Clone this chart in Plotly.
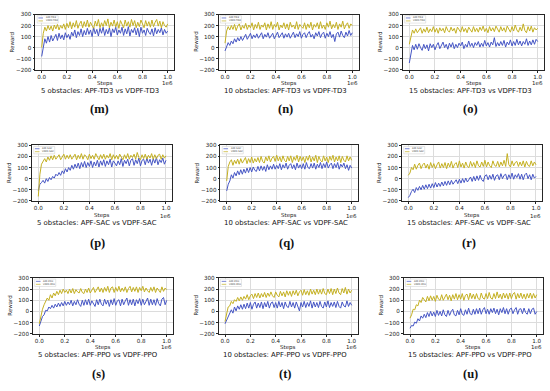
import plotly.graph_objects as go

W, H = 550, 391

steps = [i * 12500 for i in range(81)]

m_vdpf = [0, 130, 185, 150, 200, 160, 195, 150, 205, 170,
          210, 160, 200, 175, 215, 165, 220, 180, 235, 170,
          225, 185, 245, 175, 215, 240, 180, 235, 190, 250,
          185, 230, 200, 175, 240, 195, 255, 180, 225, 190,
          245, 200, 260, 180, 230, 195, 250, 185, 235, 175,
          245, 205, 180, 250, 195, 235, 185, 255, 200, 245,
          180, 230, 190, 250, 205, 180, 245, 195, 235, 185,
          250, 190, 230, 255, 195, 240, 180, 235, 200, 185, 215]
m_apf = [-80, 10, 80, 40, 100, 50, 110, 60, 95, 120,
         65, 130, 80, 115, 70, 135, 90, 120, 75, 140,
         105, 160, 90, 145, 110, 170, 100, 155, 115, 175,
         120, 160, 100, 180, 125, 165, 105, 175, 130, 185,
         110, 165, 125, 180, 100, 170, 135, 185, 115, 160,
         130, 185, 110, 170, 125, 190, 105, 165, 135, 180,
         115, 175, 100, 185, 130, 160, 110, 175, 140, 120,
         170, 105, 180, 125, 165, 135, 180, 115, 165, 130, 150]

n_vdpf = [40, 150, 190, 160, 200, 165, 210, 155, 195, 215,
          160, 200, 175, 220, 165, 205, 180, 225, 160, 210,
          175, 230, 165, 205, 185, 225, 160, 215, 175, 235,
          165, 210, 185, 230, 160, 205, 180, 225, 170, 215,
          160, 230, 185, 205, 170, 235, 165, 210, 190, 175,
          225, 165, 215, 180, 230, 160, 210, 185, 225, 170,
          235, 175, 205, 165, 225, 185, 240, 170, 210, 180,
          230, 165, 215, 185, 240, 170, 205, 225, 175, 215, 200]
n_apf = [-30, 10, 45, 20, 60, 35, 80, 50, 90, 60,
         100, 65, 95, 120, 75, 110, 130, 80, 115, 90,
         125, 85, 110, 135, 80, 120, 95, 135, 85, 115,
         130, 80, 120, 140, 90, 115, 135, 85, 125, 95,
         130, 85, 120, 140, 90, 125, 100, 145, 85, 120,
         135, 90, 125, 145, 95, 120, 80, 135, 105, 145,
         90, 125, 140, 85, 130, 100, 145, 90, 120, 55,
         125, 140, 95, 150, 110, 90, 140, 105, 155, 110, 135]

o_vdpf = [30, 110, 160, 130, 170, 135, 165, 180, 130, 170,
          140, 185, 135, 170, 145, 190, 140, 175, 130, 180,
          150, 175, 135, 190, 155, 140, 185, 150, 175, 130,
          185, 155, 140, 190, 145, 175, 135, 185, 160, 140,
          190, 145, 175, 140, 185, 155, 195, 145, 175, 135,
          190, 150, 180, 145, 195, 160, 140, 190, 150, 180,
          140, 195, 160, 140, 190, 150, 205, 160, 140, 185,
          150, 215, 155, 135, 190, 150, 195, 140, 180, 160, 175]
o_apf = [-140, -40, 20, -20, 30, -15, 35, 0, -25, 30,
         -10, 25, -30, 35, 0, 30, -20, 20, 45, -10,
         25, 50, 0, 30, -15, 40, 5, 45, -10, 30,
         0, 40, 15, 50, -10, 30, 5, 60, 10, 40,
         0, 45, 20, 55, 5, 40, 10, 65, 15, 45,
         5, 50, 25, 90, 10, 45, 15, 55, 20, 65,
         5, 50, 25, 70, 15, 55, 20, 75, 25, 60,
         15, 55, 30, 80, 20, 60, 25, 70, 30, 75, 55]

p_vdpf = [-160, 40, 130, 160, 180, 150, 195, 165, 205, 170,
          210, 175, 195, 215, 170, 200, 220, 175, 210, 180,
          215, 175, 200, 220, 170, 210, 180, 225, 175, 215,
          200, 170, 220, 180, 210, 175, 225, 190, 170, 215,
          180, 220, 175, 210, 185, 225, 170, 215, 180, 210,
          175, 220, 190, 170, 215, 180, 225, 175, 210, 190,
          220, 175, 235, 190, 170, 215, 180, 220, 175, 210,
          185, 225, 175, 215, 180, 210, 220, 175, 215, 185, 205]
p_apf = [-110, -50, -35, -15, -40, 0, -25, 10, -10, 20,
         5, 40, 25, 55, 30, 70, 45, 90, 60, 100,
         75, 120, 85, 130, 95, 140, 90, 145, 105, 155,
         100, 145, 110, 160, 100, 150, 115, 165, 105, 160,
         120, 170, 110, 160, 125, 175, 105, 160, 140, 115,
         160, 125, 180, 110, 165, 135, 175, 115, 165, 180,
         120, 170, 135, 185, 115, 165, 175, 125, 185, 140,
         175, 120, 180, 140, 190, 125, 170, 145, 185, 130, 165]

q_vdpf = [-20, 110, 150, 170, 120, 165, 135, 175, 130, 180,
          140, 170, 190, 135, 180, 145, 195, 140, 180, 150,
          190, 145, 200, 155, 140, 195, 160, 205, 150, 185,
          200, 155, 210, 160, 195, 150, 205, 165, 150, 200,
          160, 205, 145, 195, 165, 210, 150, 200, 160, 195,
          145, 200, 165, 210, 150, 195, 160, 210, 145, 200,
          165, 150, 205, 160, 195, 145, 200, 165, 210, 150,
          195, 160, 205, 145, 200, 165, 150, 205, 160, 195, 165]
q_apf = [-110, -50, -20, 35, 5, 55, 25, 70, 35, 80,
         40, 85, 50, 95, 55, 100, 60, 105, 75, 65,
         110, 70, 115, 75, 110, 65, 125, 80, 115, 85,
         130, 85, 120, 90, 135, 80, 125, 95, 140, 85,
         120, 135, 90, 125, 80, 140, 95, 125, 90, 135,
         85, 145, 100, 90, 135, 95, 140, 85, 130, 100,
         145, 90, 135, 100, 150, 95, 125, 140, 90, 135,
         100, 145, 85, 130, 105, 140, 90, 125, 75, 120, 95]

r_vdpf = [30, 50, 100, 80, 130, 85, 120, 140, 90, 125,
          140, 95, 130, 85, 145, 100, 135, 90, 125, 150,
          95, 135, 100, 145, 90, 140, 105, 155, 95, 130,
          145, 100, 160, 105, 140, 95, 150, 110, 100, 155,
          110, 145, 100, 160, 115, 105, 150, 110, 165, 105,
          150, 115, 100, 160, 120, 110, 155, 105, 150, 115,
          165, 110, 225, 125, 105, 160, 115, 145, 155, 110,
          150, 115, 160, 105, 155, 120, 110, 160, 115, 150, 125]
r_apf = [-170, -150, -115, -95, -125, -80, -105, -70, -100, -60,
         -95, -55, -90, -50, -85, -45, -80, -35, -75, -40,
         -70, -30, -65, -25, -60, -20, -55, -15, -50, -25,
         -10, -45, -5, -40, 0, -35, 5, -30, -5, 15,
         -25, 20, -20, 25, -15, 30, -10, -25, 25, 35,
         -10, 30, -5, 40, -15, 25, 35, -10, 45, 0,
         30, 40, -10, 35, 0, 50, -5, 35, 10, 45,
         -5, 40, -10, 35, 50, 0, 35, -10, 40, 5, 20]

s_vdpf = [-110, -40, 20, 60, 90, 120, 100, 150, 120, 165,
          140, 180, 150, 190, 160, 200, 170, 190, 160, 200,
          165, 205, 160, 195, 175, 165, 205, 170, 160, 200,
          170, 210, 165, 195, 215, 170, 200, 220, 175, 210,
          170, 215, 180, 225, 170, 210, 220, 170, 215, 180,
          225, 175, 210, 180, 220, 170, 205, 225, 175, 215,
          180, 220, 170, 215, 185, 225, 175, 210, 185, 170,
          215, 180, 220, 170, 210, 190, 170, 220, 180, 210, 195]
s_apf = [-130, -90, -45, -30, 10, 5, 40, 25, 55, 30,
         65, 40, 75, 45, 80, 50, 90, 55, 85, 60,
         100, 50, 90, 60, 105, 65, 45, 100, 55, 105,
         60, 110, 55, 95, 70, 45, 105, 60, 110, 65,
         50, 110, 65, 100, 45, 105, 60, 115, 55, 95,
         105, 50, 110, 60, 95, 120, 55, 105, 60, 110,
         50, 105, 70, 115, 55, 110, 60, 100, 120, 55,
         110, 60, 105, 55, 115, 70, 50, 110, 125, 60, 100]

t_vdpf = [-90, -30, 40, 50, 90, 70, 105, 90, 125, 95,
          130, 100, 135, 110, 150, 105, 140, 155, 115, 160,
          125, 165, 120, 160, 130, 170, 125, 165, 135, 175,
          140, 125, 175, 145, 130, 180, 140, 175, 130, 185,
          145, 180, 135, 185, 150, 190, 140, 175, 190, 145,
          195, 150, 185, 145, 200, 155, 190, 150, 200, 155,
          195, 155, 205, 160, 150, 200, 160, 205, 150, 200,
          160, 210, 165, 150, 205, 165, 215, 155, 200, 165, 190]
t_apf = [-110, -80, -50, -20, 15, -15, 40, 5, 50, 20,
         60, 20, 65, 25, 75, 30, 80, 20, 65, 85,
         30, 75, 35, 85, 25, 80, 40, 90, 30, 75,
         85, 35, 80, 30, 90, 40, 80, 25, 85, 45,
         35, 90, 40, 80, 30, 85, 45, 5, 80, 40,
         90, 35, 80, 45, 95, 30, 85, 40, 80, 35,
         90, 45, 30, 85, 40, 95, 35, 80, 45, 85,
         35, 90, 45, 30, 85, 50, 40, 95, 45, 80, 55]

u_vdpf = [-60, -30, 20, 15, 60, 50, 100, 80, 125, 100,
          85, 135, 95, 140, 100, 135, 90, 145, 110, 100,
          150, 100, 135, 155, 105, 145, 95, 150, 110, 160,
          105, 150, 110, 160, 100, 145, 155, 105, 165, 115,
          155, 110, 160, 115, 105, 165, 120, 110, 160, 115,
          170, 120, 110, 160, 115, 175, 120, 155, 110, 165,
          120, 160, 110, 165, 115, 155, 170, 110, 160, 120,
          165, 115, 155, 110, 160, 120, 165, 115, 160, 120, 150]
u_apf = [-150, -125, -130, -95, -105, -65, -85, -40, -60, -25,
         -55, -10, -45, 0, -40, -5, -45, 10, -35, 0,
         -40, 15, -30, -45, 10, -35, 0, 20, -30, -40,
         10, -30, 25, -25, -35, 15, -25, 30, -20, -30,
         20, -25, 25, -20, 30, -25, 15, 35, -20, 20,
         -25, 25, -10, 30, -20, 20, -30, 25, -10, 35,
         -20, 25, -25, 20, 30, -20, 15, 35, -25, 20,
         25, -20, 30, -10, -25, 25, -20, 20, 30, -25, 0]

obstacles = ["5", "10", "15", "5", "10", "15", "5", "10", "15"]
algos = ["TD3", "TD3", "TD3", "SAC", "SAC", "SAC", "PPO", "PPO", "PPO"]
letters = ["m", "n", "o", "p", "q", "r", "s", "t", "u"]
apf_series = [m_apf, n_apf, o_apf, p_apf, q_apf, r_apf, s_apf, t_apf, u_apf]
vdpf_series = [m_vdpf, n_vdpf, o_vdpf, p_vdpf, q_vdpf, r_vdpf, s_vdpf, t_vdpf, u_vdpf]
y_ticks = [-200, -100, 0, 100, 200, 300]
x_ticks = [0, 200000, 400000, 600000, 800000, 1000000]
x_tick_labels = ["0.0", "0.2", "0.4", "0.6", "0.8", "1.0"]

# layout geometry in pixels: positions of x=0.0 and x=1.0, and axes top/bottom
x_pix = [(41.7, 167.7), (225.0, 352.3), (409.3, 537.7),
         (38.3, 166.0), (226.7, 351.7), (408.3, 536.0),
         (39.3, 166.7), (225.0, 351.7), (410.0, 536.7)]
row_pix = [(11.7, 67.7), (144.5, 201.0), (279.2, 336.0)]
row_text = [(13.6, 21.6, 40.3), (15.2, 22.3, 43.0), (13.5, 21.7, 40.7)]
col_shift = [-5, -3, -3]

APF_C = "#4555c4"
VDPF_C = "#c4b022"

fig = go.Figure()
annotations = []
shapes = []

def px(x):
    return x / W

def py(y):
    return 1 - y / H

def ann(x, y, text, size, xanchor="center", family="DejaVu Sans", color="#222", angle=0):
    return dict(x=px(x), y=py(y), text=text, showarrow=False, xref="paper", yref="paper",
                xanchor=xanchor, yanchor="middle", textangle=angle,
                font=dict(family=family, size=size, color=color))

for k in range(9):
    r = k // 3
    p0, p1 = x_pix[k]
    u = p1 - p0
    left, right = p0 - 0.05 * u, p1 + 0.05 * u
    top, bot = row_pix[r]
    xa = "xaxis" if k == 0 else f"xaxis{k+1}"
    ya = "yaxis" if k == 0 else f"yaxis{k+1}"
    xr = "x" if k == 0 else f"x{k+1}"
    yr = "y" if k == 0 else f"y{k+1}"
    ax_common = dict(showline=True, linecolor="#262626", linewidth=0.7, mirror=True,
                     ticks="outside", ticklen=2, tickwidth=0.6, tickcolor="#262626",
                     showgrid=True, gridcolor="#dcdcdc", gridwidth=0.6, zeroline=False,
                     tickfont=dict(family="DejaVu Sans", size=5.6, color="#222"))
    fig.update_layout(**{
        xa: dict(domain=[px(left), px(right)], range=[-50000, 1050000],
                 tickvals=x_ticks, ticktext=x_tick_labels, anchor=yr, **ax_common),
        ya: dict(domain=[py(bot), py(top)], range=[-200, 300], tickvals=y_ticks,
                 anchor=xr, **ax_common),
    })
    fig.add_trace(go.Scatter(x=steps, y=apf_series[k], mode="lines", xaxis=xr, yaxis=yr,
                             line=dict(color=APF_C, width=1.0), showlegend=False))
    fig.add_trace(go.Scatter(x=steps, y=vdpf_series[k], mode="lines", xaxis=xr, yaxis=yr,
                             line=dict(color=VDPF_C, width=1.0), showlegend=False))
    ts, tc, tl = row_text[r]
    cx = (left + right) / 2 + col_shift[k % 3]
    annotations += [
        ann((left + right) / 2, bot + ts, "Steps", 5.5),
        ann(right + 1, bot + ts, "1e6", 5.5, xanchor="right"),
        ann(left - 23, (top + bot) / 2, "Reward", 5.5, angle=-90),
        ann(cx, bot + tc, f"{obstacles[k]} obstacles: APF-{algos[k]} vs VDPF-{algos[k]}", 6.9,
            color="#111"),
        ann(cx, bot + tl, f"<b>({letters[k]})</b>", 12.5, family="Liberation Serif", color="#111"),
    ]
    # legend box
    lx, ly = left + 1.8, top + 1.2
    shapes.append(dict(type="rect", xref="paper", yref="paper", x0=px(lx), x1=px(lx + 21),
                       y0=py(ly), y1=py(ly + 7.5), line=dict(color="#cccccc", width=0.5),
                       fillcolor="rgba(255,255,255,0.85)", layer="above"))
    for j, (name, col) in enumerate([(f"APF-{algos[k]}", APF_C), (f"VDPF-{algos[k]}", VDPF_C)]):
        yy = ly + 2.3 + j * 3
        shapes.append(dict(type="line", xref="paper", yref="paper", x0=px(lx + 1.2), x1=px(lx + 5.8),
                           y0=py(yy), y1=py(yy), line=dict(color=col, width=0.7), layer="above"))
        annotations.append(ann(lx + 6.5, yy, name, 2.4, xanchor="left", color="#333"))

fig.update_layout(width=W, height=H, margin=dict(l=0, r=0, t=0, b=0),
                  paper_bgcolor="white", plot_bgcolor="white",
                  annotations=annotations, shapes=shapes, showlegend=False)

fig.write_html("out.html", config={"displayModeBar": False},
               post_script="document.body.style.margin='0px';")
